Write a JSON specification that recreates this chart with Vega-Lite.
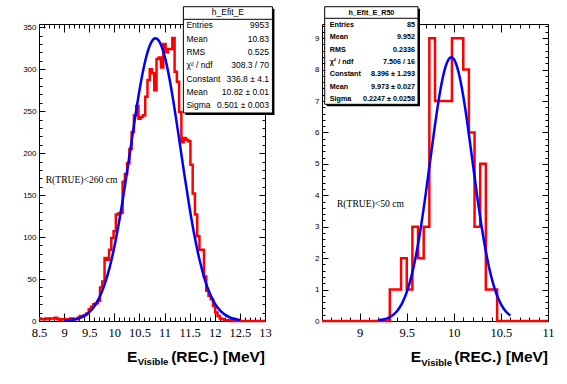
{
"$schema": "https://vega.github.io/schema/vega-lite/v6.json",
"background": "white",
"autosize": {"type": "pad"},
"padding": {"left": 22, "top": 5, "right": 0, "bottom": 0},
"spacing": 57,
"bounds": "flush",
"config": {
  "view": {"stroke": "#000000", "strokeWidth": 1},
  "axis": {"grid": false, "domain": false, "tickColor": "#000000", "tickWidth": 1, "labelColor": "#000000", "title": null, "labelFlush": false, "labelOverlap": false}
},
"datasets": {
  "histL": [
    {"x":8.5,"n":3},{"x":8.545,"n":2},{"x":8.59,"n":2},{"x":8.635,"n":3},{"x":8.68,"n":2},{"x":8.725,"n":3},{"x":8.77,"n":3},{"x":8.815,"n":4},{"x":8.86,"n":2},{"x":8.905,"n":1},
    {"x":8.95,"n":2},{"x":8.995,"n":2},{"x":9.04,"n":1},{"x":9.085,"n":2},{"x":9.13,"n":3},{"x":9.175,"n":2},{"x":9.22,"n":2},{"x":9.265,"n":4},{"x":9.31,"n":6},{"x":9.355,"n":5},
    {"x":9.4,"n":7},{"x":9.445,"n":9},{"x":9.49,"n":14},{"x":9.535,"n":17},{"x":9.58,"n":20},{"x":9.625,"n":21},{"x":9.67,"n":24},{"x":9.715,"n":40},{"x":9.76,"n":47},{"x":9.805,"n":75},
    {"x":9.85,"n":73},{"x":9.895,"n":85},{"x":9.94,"n":99},{"x":9.985,"n":107},{"x":10.03,"n":127},{"x":10.075,"n":128},{"x":10.12,"n":129},{"x":10.165,"n":166},{"x":10.21,"n":175},{"x":10.255,"n":188},
    {"x":10.3,"n":205},{"x":10.345,"n":225},{"x":10.39,"n":245},{"x":10.435,"n":256},{"x":10.48,"n":241},{"x":10.525,"n":243},{"x":10.57,"n":245},{"x":10.615,"n":267},{"x":10.66,"n":287},{"x":10.705,"n":300},
    {"x":10.75,"n":295},{"x":10.795,"n":275},{"x":10.84,"n":312},{"x":10.885,"n":314},{"x":10.93,"n":302},{"x":10.975,"n":330},{"x":11.02,"n":320},{"x":11.065,"n":324},{"x":11.11,"n":324},{"x":11.155,"n":337},
    {"x":11.2,"n":297},{"x":11.245,"n":285},{"x":11.29,"n":249},{"x":11.335,"n":213},{"x":11.38,"n":218},{"x":11.425,"n":216},{"x":11.47,"n":214},{"x":11.515,"n":186},{"x":11.56,"n":152},{"x":11.605,"n":127},
    {"x":11.65,"n":101},{"x":11.695,"n":85},{"x":11.74,"n":85},{"x":11.785,"n":53},{"x":11.83,"n":36},{"x":11.875,"n":30},{"x":11.92,"n":26},{"x":11.965,"n":18},{"x":12.01,"n":10},{"x":12.055,"n":6},
    {"x":12.1,"n":3},{"x":12.145,"n":2},{"x":12.19,"n":1},{"x":12.235,"n":1},{"x":12.28,"n":1},{"x":12.325,"n":0},{"x":12.37,"n":1},{"x":12.415,"n":0},{"x":12.46,"n":0},{"x":12.505,"n":0},
    {"x":12.55,"n":0},{"x":12.595,"n":0},{"x":12.64,"n":0},{"x":12.685,"n":0},{"x":12.73,"n":0},{"x":12.775,"n":0},{"x":12.82,"n":0},{"x":12.865,"n":0},{"x":12.91,"n":0},{"x":12.955,"n":0},
    {"x":13.0,"n":0}
  ],
  "gaussL": [
    {"x":9.0,"g":0.459},{"x":9.1,"g":0.93},{"x":9.2,"g":1.807},{"x":9.3,"g":3.377},{"x":9.4,"g":6.065},{"x":9.5,"g":10.47},{"x":9.6,"g":17.37},{"x":9.7,"g":27.68},{"x":9.8,"g":42.4},{"x":9.9,"g":62.38},
    {"x":10.0,"g":88.25},{"x":10.1,"g":119.92},{"x":10.2,"g":156.61},{"x":10.3,"g":196.55},{"x":10.4,"g":237.01},{"x":10.5,"g":274.65},{"x":10.6,"g":305.85},{"x":10.7,"g":327.28},{"x":10.8,"g":336.53},{"x":10.82,"g":336.8},
    {"x":10.9,"g":332.53},{"x":11.0,"g":315.75},{"x":11.1,"g":288.1},{"x":11.2,"g":252.61},{"x":11.3,"g":212.83},{"x":11.4,"g":172.32},{"x":11.5,"g":134.07},{"x":11.6,"g":100.24},{"x":11.7,"g":72.01},{"x":11.8,"g":49.72},
    {"x":11.9,"g":32.98},{"x":12.0,"g":21.03},{"x":12.1,"g":12.88},{"x":12.2,"g":7.58},{"x":12.3,"g":4.29},{"x":12.4,"g":2.33},{"x":12.5,"g":1.22}
  ],
  "statsL": [
    {"i":0,"name":"h_Efit_E","val":""},{"i":1,"name":"Entries","val":"9953"},{"i":2,"name":"Mean","val":"10.83"},{"i":3,"name":"RMS","val":"0.525"},
    {"i":4,"name":"χ² / ndf","val":"308.3 / 70"},{"i":5,"name":"Constant","val":"336.8 ± 4.1"},{"i":6,"name":"Mean","val":"10.82 ± 0.01"},{"i":7,"name":"Sigma","val":"0.501 ± 0.003"}
  ],
  "histR": [
    {"x":8.6,"n":0},{"x":8.66,"n":0},{"x":8.72,"n":0},{"x":8.78,"n":0},{"x":8.84,"n":0},{"x":8.9,"n":0},{"x":8.96,"n":0},{"x":9.02,"n":0},{"x":9.08,"n":0},{"x":9.14,"n":0},
    {"x":9.2,"n":0},{"x":9.26,"n":0},{"x":9.32,"n":1},{"x":9.38,"n":1},{"x":9.44,"n":2},{"x":9.5,"n":1},{"x":9.56,"n":3},{"x":9.62,"n":2},{"x":9.68,"n":3},{"x":9.74,"n":9},
    {"x":9.8,"n":7},{"x":9.86,"n":7},{"x":9.92,"n":7},{"x":9.98,"n":9},{"x":10.04,"n":9},{"x":10.1,"n":8},{"x":10.16,"n":6},{"x":10.22,"n":3},{"x":10.28,"n":5},{"x":10.34,"n":1},
    {"x":10.4,"n":1},{"x":10.46,"n":0},{"x":10.52,"n":0},{"x":10.58,"n":0},{"x":10.64,"n":0},{"x":10.7,"n":0},{"x":10.76,"n":0},{"x":10.82,"n":0},{"x":10.88,"n":0},{"x":10.94,"n":0},
    {"x":11.0,"n":0}
  ],
  "gaussR": [
    {"x":9.2,"g":0.0226},{"x":9.25,"g":0.0474},{"x":9.3,"g":0.0946},{"x":9.35,"g":0.1798},{"x":9.4,"g":0.3251},{"x":9.45,"g":0.5595},{"x":9.5,"g":0.9159},{"x":9.55,"g":1.4274},{"x":9.6,"g":2.117},{"x":9.65,"g":2.9879},
    {"x":9.7,"g":4.0138},{"x":9.75,"g":5.131},{"x":9.8,"g":6.2424},{"x":9.85,"g":7.2278},{"x":9.9,"g":7.9645},{"x":9.95,"g":8.3521},{"x":9.973,"g":8.396},{"x":10.0,"g":8.3356},{"x":10.05,"g":7.9173},{"x":10.1,"g":7.1565},
    {"x":10.15,"g":6.1565},{"x":10.2,"g":5.0403},{"x":10.25,"g":3.9272},{"x":10.3,"g":2.9119},{"x":10.35,"g":2.0549},{"x":10.4,"g":1.3801},{"x":10.45,"g":0.8821},{"x":10.5,"g":0.5367},{"x":10.55,"g":0.3107},{"x":10.6,"g":0.1711}
  ],
  "statsR": [
    {"i":0,"name":"h_Efit_E_R50","val":""},{"i":1,"name":"Entries","val":"85"},{"i":2,"name":"Mean","val":"9.952"},{"i":3,"name":"RMS","val":"0.2336"},
    {"i":4,"name":"χ² / ndf","val":"7.506 / 16"},{"i":5,"name":"Constant","val":"8.396 ± 1.293"},{"i":6,"name":"Mean","val":"9.973 ± 0.027"},{"i":7,"name":"Sigma","val":"0.2247 ± 0.0258"}
  ],
  "noteL": [{"t":"R(TRUE)<260 cm"}],
  "noteR": [{"t":"R(TRUE)<50 cm"}],
  "titleE": [{"t":"E"}],
  "titleSub": [{"t":"Visible"}],
  "titleRest": [{"t":"(REC.) [MeV]"}],
  "box": [{"b":"stats"}]
},
"hconcat": [
{
  "width": 226, "height": 297,
  "resolve": {"scale": {"y": "independent"}, "axis": {"x": "independent", "y": "independent"}},
  "layer": [
  {
    "resolve": {"axis": {"x": "independent", "y": "independent"}},
    "layer": [
    {
      "data": {"name": "histL"},
      "mark": {"type": "line", "interpolate": "step-after", "color": "#ff0000", "strokeWidth": 2.5},
      "encoding": {
        "x": {"field": "x", "type": "quantitative", "scale": {"domain": [8.5, 13], "nice": false, "zero": false},
              "axis": {"orient": "bottom", "values": [8.5,9,9.5,10,10.5,11,11.5,12,12.5,13], "tickSize": -8, "labelPadding": 13, "labelFont": "Liberation Serif", "labelFontSize": 12.5, "format": "~g"}},
        "y": {"field": "n", "type": "quantitative", "scale": {"domain": [0, 353.8], "nice": false, "zero": false},
              "axis": {"orient": "left", "values": [0,50,100,150,200,250,300,350], "tickSize": -6, "labelPadding": 9, "labelFont": "Liberation Sans", "labelFontSize": 8}}
      }
    },
    {
      "data": {"name": "gaussL"},
      "mark": {"type": "line", "interpolate": "monotone", "color": "#0000ff", "strokeWidth": 2.5},
      "encoding": {
        "x": {"field": "x", "type": "quantitative", "scale": {"domain": [8.5, 13], "nice": false, "zero": false},
              "axis": {"orient": "bottom", "values": [8.6,8.7,8.8,8.9,9.1,9.2,9.3,9.4,9.6,9.7,9.8,9.9,10.1,10.2,10.3,10.4,10.6,10.7,10.8,10.9,11.1,11.2,11.3,11.4,11.6,11.7,11.8,11.9,12.1,12.2,12.3,12.4,12.6,12.7,12.8,12.9], "tickSize": -4, "labels": false}},
        "y": {"field": "g", "type": "quantitative", "scale": {"domain": [0, 353.8], "nice": false, "zero": false},
              "axis": {"orient": "left", "values": [10,20,30,40,60,70,80,90,110,120,130,140,160,170,180,190,210,220,230,240,260,270,280,290,310,320,330,340], "tickSize": -3, "labels": false}}
      }
    },
    {
      "data": {"name": "noteL"},
      "mark": {"type": "text", "align": "left", "baseline": "alphabetic", "font": "Liberation Serif", "fontSize": 9.6, "color": "#000000"},
      "encoding": {
        "text": {"field": "t"},
        "x": {"datum": 8.633, "type": "quantitative", "scale": {"domain": [8.5, 13], "nice": false, "zero": false},
              "axis": {"orient": "top", "values": [8.5,9,9.5,10,10.5,11,11.5,12,12.5,13], "tickSize": -8, "labels": false}},
        "y": {"datum": 163.8, "type": "quantitative", "scale": {"domain": [0, 353.8], "nice": false, "zero": false},
              "axis": {"orient": "right", "values": [0,50,100,150,200,250,300,350], "tickSize": -6, "labels": false}}
      }
    },
    {
      "data": {"name": "box"},
      "mark": {"type": "rect", "color": "#000000"},
      "encoding": {
        "x": {"datum": 11.415, "type": "quantitative", "scale": {"domain": [8.5, 13], "nice": false, "zero": false},
              "axis": {"orient": "top", "values": [8.6,8.7,8.8,8.9,9.1,9.2,9.3,9.4,9.6,9.7,9.8,9.9,10.1,10.2,10.3,10.4,10.6,10.7,10.8,10.9,11.1,11.2,11.3,11.4,11.6,11.7,11.8,11.9,12.1,12.2,12.3,12.4,12.6,12.7,12.8,12.9], "tickSize": -4, "labels": false}},
        "x2": {"datum": 13.188},
        "y": {"datum": 372.0, "type": "quantitative", "scale": {"domain": [0, 353.8], "nice": false, "zero": false},
              "axis": {"orient": "right", "values": [10,20,30,40,60,70,80,90,110,120,130,140,160,170,180,190,210,220,230,240,260,270,280,290,310,320,330,340], "tickSize": -3, "labels": false}},
        "y2": {"datum": 245.4}
      }
    },
    {
      "data": {"name": "box"},
      "mark": {"type": "rect", "fill": "#ffffff", "stroke": "#000000", "strokeWidth": 1},
      "encoding": {
        "x": {"datum": 11.375, "type": "quantitative", "scale": {"domain": [8.5, 13], "nice": false, "zero": false}, "axis": null},
        "x2": {"datum": 13.148},
        "y": {"datum": 374.4, "type": "quantitative", "scale": {"domain": [0, 353.8], "nice": false, "zero": false}, "axis": null},
        "y2": {"datum": 247.8}
      }
    },
    {
      "data": {"name": "box"},
      "mark": {"type": "rule", "color": "#000000", "strokeWidth": 1},
      "encoding": {
        "x": {"datum": 11.375, "type": "quantitative", "scale": {"domain": [8.5, 13], "nice": false, "zero": false}, "axis": null},
        "x2": {"datum": 13.148},
        "y": {"datum": 359.4, "type": "quantitative", "scale": {"domain": [0, 353.8], "nice": false, "zero": false}, "axis": null}
      }
    },
    {
      "data": {"name": "titleE"},
      "mark": {"type": "text", "align": "right", "baseline": "alphabetic", "font": "Liberation Sans", "fontWeight": "bold", "fontSize": 15.5, "color": "#000000"},
      "encoding": {
        "text": {"field": "t"},
        "x": {"datum": 10.459, "type": "quantitative", "scale": {"domain": [8.5, 13], "nice": false, "zero": false}, "axis": null},
        "y": {"datum": -48.8, "type": "quantitative", "scale": {"domain": [0, 353.8], "nice": false, "zero": false}, "axis": null}
      }
    },
    {
      "data": {"name": "titleSub"},
      "mark": {"type": "text", "align": "right", "baseline": "alphabetic", "font": "Liberation Sans", "fontWeight": "bold", "fontSize": 9.6, "color": "#000000"},
      "encoding": {
        "text": {"field": "t"},
        "x": {"datum": 11.077, "type": "quantitative", "scale": {"domain": [8.5, 13], "nice": false, "zero": false}, "axis": null},
        "y": {"datum": -52.7, "type": "quantitative", "scale": {"domain": [0, 353.8], "nice": false, "zero": false}, "axis": null}
      }
    },
    {
      "data": {"name": "titleRest"},
      "mark": {"type": "text", "align": "right", "baseline": "alphabetic", "font": "Liberation Sans", "fontWeight": "bold", "fontSize": 15.5, "color": "#000000"},
      "encoding": {
        "text": {"field": "t"},
        "x": {"datum": 13, "type": "quantitative", "scale": {"domain": [8.5, 13], "nice": false, "zero": false}, "axis": null},
        "y": {"datum": -48.8, "type": "quantitative", "scale": {"domain": [0, 353.8], "nice": false, "zero": false}, "axis": null}
      }
    }
    ]
  },
  {
    "data": {"name": "statsL"},
    "layer": [
    {
      "transform": [{"filter": "datum.i == 0"}],
      "mark": {"type": "text", "align": "center", "baseline": "alphabetic", "font": "Liberation Sans", "fontSize": 8.5, "color": "#000000"},
      "encoding": {
        "text": {"field": "name"},
        "x": {"datum": 12.261, "type": "quantitative", "scale": {"domain": [8.5, 13], "nice": false, "zero": false}, "axis": null},
        "y": {"field": "i", "type": "ordinal", "scale": {"type": "point", "domain": [0,1,2,3,4,5,6,7], "range": [-9, 84.1], "padding": 0}, "axis": null}
      }
    },
    {
      "transform": [{"filter": "datum.i > 0"}],
      "mark": {"type": "text", "align": "left", "baseline": "alphabetic", "font": "Liberation Sans", "fontSize": 8.5, "color": "#000000"},
      "encoding": {
        "text": {"field": "name"},
        "x": {"datum": 11.435, "type": "quantitative", "scale": {"domain": [8.5, 13], "nice": false, "zero": false}, "axis": null},
        "y": {"field": "i", "type": "ordinal", "scale": {"type": "point", "domain": [0,1,2,3,4,5,6,7], "range": [-9, 84.1], "padding": 0}, "axis": null}
      }
    },
    {
      "transform": [{"filter": "datum.i > 0"}],
      "mark": {"type": "text", "align": "right", "baseline": "alphabetic", "font": "Liberation Sans", "fontSize": 8.5, "color": "#000000"},
      "encoding": {
        "text": {"field": "val"},
        "x": {"datum": 13.08, "type": "quantitative", "scale": {"domain": [8.5, 13], "nice": false, "zero": false}, "axis": null},
        "y": {"field": "i", "type": "ordinal", "scale": {"type": "point", "domain": [0,1,2,3,4,5,6,7], "range": [-9, 84.1], "padding": 0}, "axis": null}
      }
    }
    ]
  }
  ]
},
{
  "width": 226, "height": 297,
  "resolve": {"scale": {"y": "independent"}, "axis": {"x": "independent", "y": "independent"}},
  "layer": [
  {
    "resolve": {"axis": {"x": "independent", "y": "independent"}},
    "layer": [
    {
      "data": {"name": "histR"},
      "mark": {"type": "line", "interpolate": "step-after", "color": "#ff0000", "strokeWidth": 2.5},
      "encoding": {
        "x": {"field": "x", "type": "quantitative", "scale": {"domain": [8.6, 11], "nice": false, "zero": false},
              "axis": {"orient": "bottom", "values": [9,9.5,10,10.5,11], "tickSize": -8, "labelPadding": 13, "labelFont": "Liberation Serif", "labelFontSize": 12.5, "format": "~g"}},
        "y": {"field": "n", "type": "quantitative", "scale": {"domain": [0, 9.45], "nice": false, "zero": false},
              "axis": {"orient": "left", "values": [0,1,2,3,4,5,6,7,8,9], "tickSize": -6, "labelPadding": 9, "labelFont": "Liberation Sans", "labelFontSize": 8}}
      }
    },
    {
      "data": {"name": "gaussR"},
      "mark": {"type": "line", "interpolate": "monotone", "color": "#0000ff", "strokeWidth": 2.5},
      "encoding": {
        "x": {"field": "x", "type": "quantitative", "scale": {"domain": [8.6, 11], "nice": false, "zero": false},
              "axis": {"orient": "bottom", "values": [8.7,8.8,8.9,9.1,9.2,9.3,9.4,9.6,9.7,9.8,9.9,10.1,10.2,10.3,10.4,10.6,10.7,10.8,10.9], "tickSize": -4, "labels": false}},
        "y": {"field": "g", "type": "quantitative", "scale": {"domain": [0, 9.45], "nice": false, "zero": false},
              "axis": {"orient": "left", "values": [0.2,0.4,0.6,0.8,1.2,1.4,1.6,1.8,2.2,2.4,2.6,2.8,3.2,3.4,3.6,3.8,4.2,4.4,4.6,4.8,5.2,5.4,5.6,5.8,6.2,6.4,6.6,6.8,7.2,7.4,7.6,7.8,8.2,8.4,8.6,8.8,9.2,9.4], "tickSize": -3, "labels": false}}
      }
    },
    {
      "data": {"name": "noteR"},
      "mark": {"type": "text", "align": "left", "baseline": "alphabetic", "font": "Liberation Serif", "fontSize": 9.6, "color": "#000000"},
      "encoding": {
        "text": {"field": "t"},
        "x": {"datum": 8.759, "type": "quantitative", "scale": {"domain": [8.6, 11], "nice": false, "zero": false},
              "axis": {"orient": "top", "values": [9,9.5,10,10.5,11], "tickSize": -8, "labels": false}},
        "y": {"datum": 3.627, "type": "quantitative", "scale": {"domain": [0, 9.45], "nice": false, "zero": false},
              "axis": {"orient": "right", "values": [0,1,2,3,4,5,6,7,8,9], "tickSize": -6, "labels": false}}
      }
    },
    {
      "data": {"name": "box"},
      "mark": {"type": "rect", "color": "#000000"},
      "encoding": {
        "x": {"datum": 8.65, "type": "quantitative", "scale": {"domain": [8.6, 11], "nice": false, "zero": false},
              "axis": {"orient": "top", "values": [8.7,8.8,8.9,9.1,9.2,9.3,9.4,9.6,9.7,9.8,9.9,10.1,10.2,10.3,10.4,10.6,10.7,10.8,10.9], "tickSize": -4, "labels": false}},
        "x2": {"datum": 9.6406},
        "y": {"datum": 9.936, "type": "quantitative", "scale": {"domain": [0, 9.45], "nice": false, "zero": false},
              "axis": {"orient": "right", "values": [0.2,0.4,0.6,0.8,1.2,1.4,1.6,1.8,2.2,2.4,2.6,2.8,3.2,3.4,3.6,3.8,4.2,4.4,4.6,4.8,5.2,5.4,5.6,5.8,6.2,6.4,6.6,6.8,7.2,7.4,7.6,7.8,8.2,8.4,8.6,8.8,9.2,9.4], "tickSize": -3, "labels": false}},
        "y2": {"datum": 6.831}
      }
    },
    {
      "data": {"name": "box"},
      "mark": {"type": "rect", "fill": "#ffffff", "stroke": "#000000", "strokeWidth": 1},
      "encoding": {
        "x": {"datum": 8.6287, "type": "quantitative", "scale": {"domain": [8.6, 11], "nice": false, "zero": false}, "axis": null},
        "x2": {"datum": 9.6194},
        "y": {"datum": 10.0, "type": "quantitative", "scale": {"domain": [0, 9.45], "nice": false, "zero": false}, "axis": null},
        "y2": {"datum": 6.895}
      }
    },
    {
      "data": {"name": "box"},
      "mark": {"type": "rule", "color": "#000000", "strokeWidth": 1},
      "encoding": {
        "x": {"datum": 8.6287, "type": "quantitative", "scale": {"domain": [8.6, 11], "nice": false, "zero": false}, "axis": null},
        "x2": {"datum": 9.6194},
        "y": {"datum": 9.631, "type": "quantitative", "scale": {"domain": [0, 9.45], "nice": false, "zero": false}, "axis": null}
      }
    },
    {
      "data": {"name": "titleE"},
      "mark": {"type": "text", "align": "right", "baseline": "alphabetic", "font": "Liberation Sans", "fontWeight": "bold", "fontSize": 15.5, "color": "#000000"},
      "encoding": {
        "text": {"field": "t"},
        "x": {"datum": 9.652, "type": "quantitative", "scale": {"domain": [8.6, 11], "nice": false, "zero": false}, "axis": null},
        "y": {"datum": -1.3045, "type": "quantitative", "scale": {"domain": [0, 9.45], "nice": false, "zero": false}, "axis": null}
      }
    },
    {
      "data": {"name": "titleSub"},
      "mark": {"type": "text", "align": "right", "baseline": "alphabetic", "font": "Liberation Sans", "fontWeight": "bold", "fontSize": 9.6, "color": "#000000"},
      "encoding": {
        "text": {"field": "t"},
        "x": {"datum": 9.9816, "type": "quantitative", "scale": {"domain": [8.6, 11], "nice": false, "zero": false}, "axis": null},
        "y": {"datum": -1.416, "type": "quantitative", "scale": {"domain": [0, 9.45], "nice": false, "zero": false}, "axis": null}
      }
    },
    {
      "data": {"name": "titleRest"},
      "mark": {"type": "text", "align": "right", "baseline": "alphabetic", "font": "Liberation Sans", "fontWeight": "bold", "fontSize": 15.5, "color": "#000000"},
      "encoding": {
        "text": {"field": "t"},
        "x": {"datum": 11, "type": "quantitative", "scale": {"domain": [8.6, 11], "nice": false, "zero": false}, "axis": null},
        "y": {"datum": -1.3045, "type": "quantitative", "scale": {"domain": [0, 9.45], "nice": false, "zero": false}, "axis": null}
      }
    }
    ]
  },
  {
    "data": {"name": "statsR"},
    "layer": [
    {
      "transform": [{"filter": "datum.i == 0"}],
      "mark": {"type": "text", "align": "center", "baseline": "alphabetic", "font": "Liberation Sans", "fontWeight": "bold", "fontSize": 7.2, "color": "#000000"},
      "encoding": {
        "text": {"field": "name"},
        "x": {"datum": 9.1246, "type": "quantitative", "scale": {"domain": [8.6, 11], "nice": false, "zero": false}, "axis": null},
        "y": {"field": "i", "type": "ordinal", "scale": {"type": "point", "domain": [0,1,2,3,4,5,6,7], "range": [-9.3, 77], "padding": 0}, "axis": null}
      }
    },
    {
      "transform": [{"filter": "datum.i > 0"}],
      "mark": {"type": "text", "align": "left", "baseline": "alphabetic", "font": "Liberation Sans", "fontWeight": "bold", "fontSize": 7.2, "color": "#000000"},
      "encoding": {
        "text": {"field": "name"},
        "x": {"datum": 8.6818, "type": "quantitative", "scale": {"domain": [8.6, 11], "nice": false, "zero": false}, "axis": null},
        "y": {"field": "i", "type": "ordinal", "scale": {"type": "point", "domain": [0,1,2,3,4,5,6,7], "range": [-9.3, 77], "padding": 0}, "axis": null}
      }
    },
    {
      "transform": [{"filter": "datum.i > 0"}],
      "mark": {"type": "text", "align": "right", "baseline": "alphabetic", "font": "Liberation Sans", "fontWeight": "bold", "fontSize": 7.2, "color": "#000000"},
      "encoding": {
        "text": {"field": "val"},
        "x": {"datum": 9.5876, "type": "quantitative", "scale": {"domain": [8.6, 11], "nice": false, "zero": false}, "axis": null},
        "y": {"field": "i", "type": "ordinal", "scale": {"type": "point", "domain": [0,1,2,3,4,5,6,7], "range": [-9.3, 77], "padding": 0}, "axis": null}
      }
    }
    ]
  }
  ]
}
]
}
